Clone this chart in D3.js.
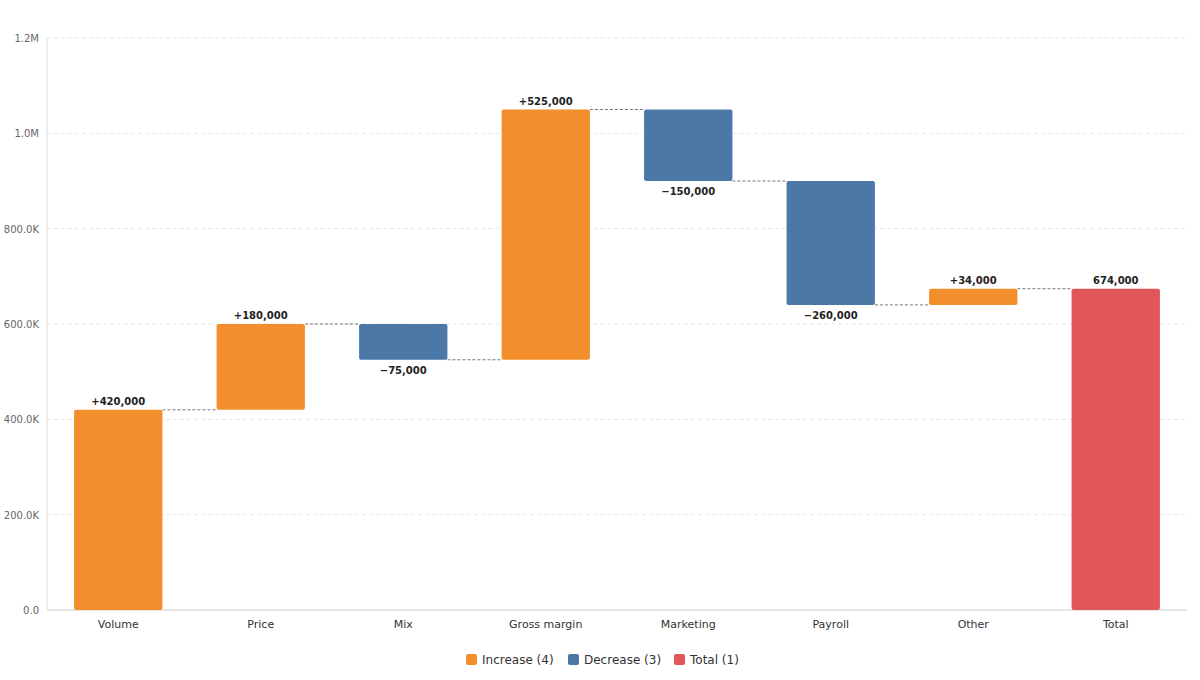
<!DOCTYPE html>
<html><head><meta charset="utf-8">
<script src="https://cdn.jsdelivr.net/npm/d3@7"></script>
<style>body{margin:0;background:#fff}svg{font-family:"DejaVu Sans",Verdana,sans-serif}</style>
</head><body><svg id="c" width="1200" height="680"></svg>
<script>
// waterfall steps
const categories = ['Volume','Price','Mix','Gross margin','Marketing','Payroll','Other','Total'];
const deltas = [420000, 180000, -75000, 525000, -150000, -260000, 34000, 674000];
const kinds = ['inc','inc','dec','inc','dec','dec','inc','total'];
const yTicks = [0, 200000, 400000, 600000, 800000, 1000000, 1200000];
const tickLabels = ['0.0','200.0K','400.0K','600.0K','800.0K','1.0M','1.2M'];

const colors = {inc:'#f28f2c', dec:'#4c78a8', total:'#e15759'};
const m = {l:47, r:13, t:38, b:70};
const W = 1200, H = 680;
const svg = d3.select('#c');

const x = d3.scaleBand().domain(categories).range([m.l, W - m.r]).paddingInner(0.38).paddingOuter(0.19);
const y = d3.scaleLinear().domain([0, 1200000]).range([H - m.b, m.t]);

let run = 0;
const steps = categories.map((c, i) => {
  let lo, hi, end;
  if (kinds[i] === 'total') { lo = 0; hi = deltas[i]; end = deltas[i]; }
  else { end = run + deltas[i]; lo = Math.min(run, end); hi = Math.max(run, end); }
  const s = {c, d: deltas[i], k: kinds[i], lo, hi, start: run, end};
  run = end;
  return s;
});

// grid
svg.append('g').selectAll('line').data(yTicks.slice(1)).join('line')
  .attr('x1', m.l).attr('x2', W - m.r).attr('y1', d => y(d)).attr('y2', d => y(d))
  .attr('stroke', '#e6e6e6').attr('stroke-dasharray', '4,3');

svg.append('g').selectAll('text').data(yTicks).join('text')
  .attr('x', m.l - 8).attr('y', d => y(d) + 4).attr('text-anchor', 'end')
  .attr('font-size', 10).attr('fill', '#666').text((d, i) => tickLabels[i]);

// axes lines
svg.append('line').attr('x1', m.l).attr('x2', m.l).attr('y1', m.t).attr('y2', y(0)).attr('stroke', '#ddd');
svg.append('line').attr('x1', m.l).attr('x2', W - m.r).attr('y1', y(0)).attr('y2', y(0)).attr('stroke', '#ddd').attr('stroke-width', 1.5);

// connectors
svg.append('g').selectAll('line').data(steps.slice(0, -1)).join('line')
  .attr('x1', d => x(d.c) + x.bandwidth())
  .attr('x2', (d, i) => x(categories[i + 1]))
  .attr('y1', d => y(d.end)).attr('y2', d => y(d.end))
  .attr('stroke', '#777').attr('stroke-dasharray', '3,2');

// bars
svg.append('g').selectAll('rect').data(steps).join('rect')
  .attr('x', d => x(d.c)).attr('width', x.bandwidth())
  .attr('y', d => y(d.hi)).attr('height', d => y(d.lo) - y(d.hi))
  .attr('rx', 2).attr('fill', d => colors[d.k]);

const fmt = d3.format(',');
svg.append('g').selectAll('text').data(steps).join('text')
  .attr('x', d => x(d.c) + x.bandwidth() / 2)
  .attr('y', d => d.k === 'dec' ? y(d.lo) + 14 : y(d.hi) - 5)
  .attr('text-anchor', 'middle').attr('font-size', 10).attr('font-weight', 'bold').attr('fill', '#222')
  .text(d => d.k === 'total' ? fmt(d.d) : d.d > 0 ? '+' + fmt(d.d) : '\u2212' + fmt(-d.d));

// category labels
svg.append('g').selectAll('text').data(categories).join('text')
  .attr('x', d => x(d) + x.bandwidth() / 2).attr('y', y(0) + 18)
  .attr('text-anchor', 'middle').attr('font-size', 11).attr('fill', '#333').text(d => d);

// legend
const legend = [['Increase (4)', colors.inc, 466], ['Decrease (3)', colors.dec, 568], ['Total (1)', colors.total, 674]];
const lg = svg.append('g').selectAll('g').data(legend).join('g').attr('transform', d => `translate(${d[2]},660)`);
lg.append('rect').attr('x', 0).attr('y', -6).attr('width', 11).attr('height', 11).attr('rx', 2).attr('fill', d => d[1]);
lg.append('text').attr('x', 16).attr('y', 4).attr('font-size', 12).attr('fill', '#333').text(d => d[0]);
</script></body></html>
